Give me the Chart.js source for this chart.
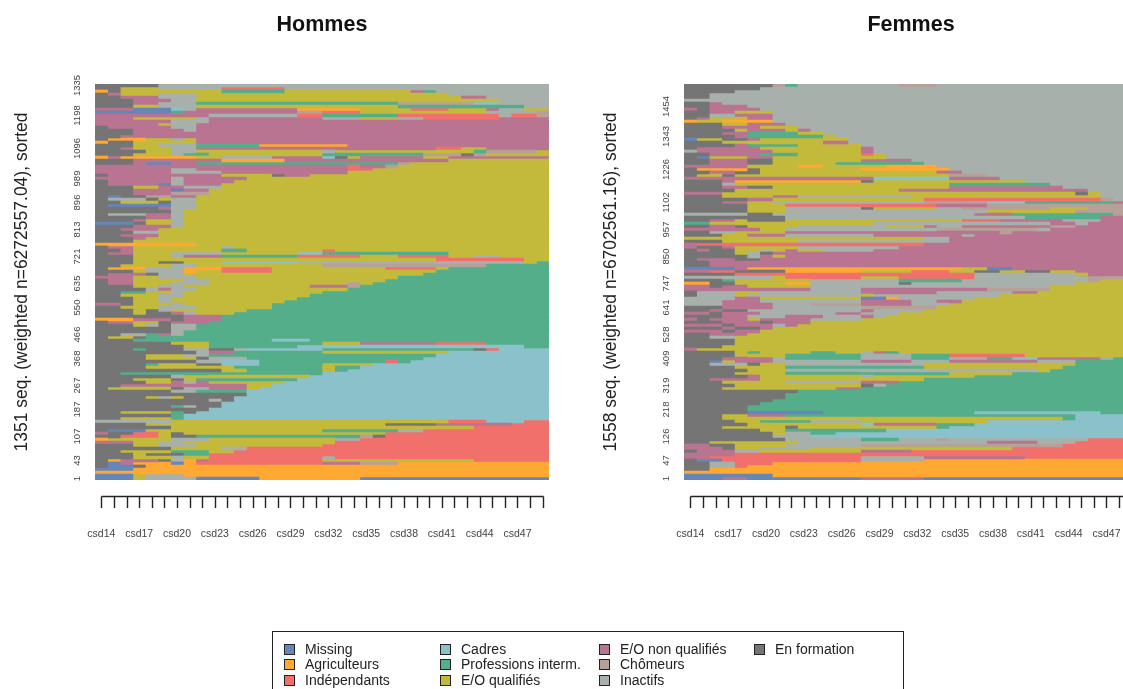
<!DOCTYPE html>
<html>

<head>
    <meta charset="utf-8">
    <title>Sequences</title>
    <script src="https://cdn.jsdelivr.net/npm/chart.js@4/dist/chart.umd.min.js"></script>
    <style>
        html, body { margin: 0; width: 1123px; height: 689px; overflow: hidden; background: #fff; }
        canvas { position: absolute; top: 0; filter: blur(0.5px); }
        #legend { position: absolute; left: 272px; top: 631px; width: 630px; height: 80px; border: 1px solid #222;
            font: 14px "Liberation Sans", Arial, sans-serif; color: #222; filter: blur(0.3px); }
        #legend div { position: absolute; white-space: nowrap; line-height: 15px; }
        #legend i { position: absolute; left: -21px; top: 2px; width: 9px; height: 9px; border: 1px solid #222; }
    </style>
</head>

<body>
    <canvas id="hommes" width="549" height="560" style="left:0"></canvas>
    <canvas id="femmes" width="549" height="560" style="left:589px"></canvas>
    <div id="legend"></div>
    <script>
        // states, in legend order (read down each legend column)
        const stateKeys = ['M', 'A', 'I', 'C', 'P', 'Q', 'N', 'H', 'T', 'F'];
        const stateNames = ['Missing', 'Agriculteurs', 'Indépendants', 'Cadres', 'Professions interm.', 'E/O qualifiés',
            'E/O non qualifiés', 'Chômeurs', 'Inactifs', 'En formation'];
        const stateColors = ['#6686b8', '#ffa832', '#f1706b', '#8ac1ca', '#55ae8a', '#c3ba3c',
            '#b97491', '#b6a097', '#a8b0ab', '#757575'];

        const periods = ['csd14', 'csd15', 'csd16', 'csd17', 'csd18', 'csd19', 'csd20', 'csd21', 'csd22', 'csd23', 'csd24', 'csd25',
            'csd26', 'csd27', 'csd28', 'csd29', 'csd30', 'csd31', 'csd32', 'csd33', 'csd34', 'csd35', 'csd36', 'csd37',
            'csd38', 'csd39', 'csd40', 'csd41', 'csd42', 'csd43', 'csd44', 'csd45', 'csd46', 'csd47', 'csd48', 'csd49'];

        const hommesTickRows = [0, 10, 21, 31, 39, 48, 57, 66, 74, 83, 91, 100, 108, 117, 125, 131];
        const hommesTickLabels = ['1335', '1198', '1096', '989', '896', '813', '721', '635', '550', '466', '368', '267', '187', '107', '43', '1'];
        const femmesTickRows = [7, 17, 28, 39, 48, 57, 66, 74, 83, 91, 100, 108, 117, 125, 131];
        const femmesTickLabels = ['1454', '1343', '1226', '1102', '957', '850', '747', '641', '528', '409', '319', '218', '126', '47', '1'];

        // one string per row, top to bottom: state letter + number of periods, no number = until the end
        const hommesRows = [
            'F5T', 'F2Q3T5I5T', 'A1F1Q8P5Q10N1P1T', 'F1N1Q3T3Q20T', 'F2N3T3Q21N2T', 'F3N3T2Q24T',
            'F3N2T3P16H6C2T', 'F3Q2T3Q16P10T', 'N3M3C1T1N8A5Q4I3Q3N1T2Q', 'M6P1N9H2I3Q10T4H', 'N9T7I2P6I8T1I2H',
            'N3Q5T1N9T3Q3T2I6N', 'N6T3N', 'N5Q1T2N', 'F1N5T2N', 'F3N4T1N', 'F3N', 'F2N', 'F1A3Q2T1Q1N', 'A1F2Q5N',
            'F3Q2T3P5A7N', 'F2N1Q3T2N19I2Q2N', 'F4Q2T2Q10T1Q11P1H4Q', 'F3Q3T1P2Q9P8H3F1H1Q', 'A1N1A6Q2T4N4C1F1Q1N5Q2N',
            'F3N7A5N13Q', 'F3N1M2N2P16H1Q', 'N20I1N2H1Q', 'N6T2N12I2Q', 'N6T4N10Q', 'F1N9Q4F1N2Q', 'N6T1N5Q',
            'F1N5T1N4Q', 'F1N4M1T1N3Q', 'F3Q2N1N1T3Q', 'F3N3M1N2Q', 'F3N3H3Q', 'F1M1F2H2N2Q', 'F1T3F1Q1T2Q', 'F2Q3F1T2Q',
            'F1M5T2Q', 'F5N1T2Q', 'F6T1Q', 'F1T3N2T1Q', 'F4N2T1Q', 'F3N1Q2T1Q', 'M3F1Q2T1Q', 'F3N3T1Q', 'F2N3Q', 'F3T2Q',
            'F2N3Q', 'F3N1Q', 'F3Q', 'A8Q', 'F1N2Q7T1Q8Q', 'F2N1Q7P2Q6I1Q', 'F1N2Q3T4Q6C2P10Q', 'F3Q3T1N3P6I5Q3I4Q2T2Q',
            'F3Q24I7Q', 'F3Q2F2Q3C6T18Q1P', 'F2Q4T2Q10H13P', 'F1A3T3A3I4Q9I4Q1P', 'F3Q1T3A1Q2I4Q13P', 'F1N3F1T2Q19P',
            'N3Q2T3Q16P', 'F1N2Q4T2Q14P', 'F1N2Q3T3Q11H1Q1P', 'F3Q2T2Q10N3H1P', 'F4T1N1T2Q12P', 'F2P2Q2T1Q11P',
            'F2Q3T2Q10P', 'F3Q2T1Q10P', 'F3Q2T1Q9P', 'N2F1Q3T1Q7P', 'F2Q3T3Q6P', 'F3Q1F1T1Q6P', 'F3Q1F2N1T1Q3P', 'F7N3P',
            'A3N3F1N3P', 'F1N2Q2F1N3P', 'F3Q1T1F1T2P', 'F6T2P', 'F6T1P', 'F2T2P1N1T1P', 'F1Q2F1P', 'F3P11C3P',
            'F6Q3P9Q3N6I4P', 'F7Q2P7C18P', 'F3P1F3T2F2T1C6P12F1I1C', 'F8T1N2P7Q10C', 'F4Q3T2P18C', 'F4Q4F1T3P14C',
            'F8T2C3P10I1P1C', 'F4P1Q3F2C3P5Q4C', 'F4Q7P7Q1P2C', 'F10Q2P6Q1P1C', 'F2P7P9C', 'F6T1Q10C', 'F3Q3F1Q1P8C',
            'F4Q2N1T1N1Q6C', 'F2N10Q2C', 'F1Q5F1T2N3Q1C', 'F6T2P4C', 'F12C', 'F4Q1T1Q1F4C', 'F9T1F1C', 'F10C', 'F6P1T1F2C',
            'F9C', 'F2Q4P1F1C', 'F6P1C', 'F2Q4P1C', 'T6Q22I3C3I', 'F4Q19F4N6I', 'F6Q24I', 'F1M3Q14P6T2I', 'N1F2I2Q1F1Q11Q5I',
            'F2I3Q1F2P13H1F1I', 'A1Q5T3Q9Q1T2I', 'N3Q2T2Q12I', 'F3Q2T3Q10I', 'F6Q4T2I', 'F2Q4P3Q2I', 'F3Q1F3P2I', 'F3Q3T1Q2I9T1I',
            'F1A1N3F1T1A1N1I9Q12I', 'F1M1N1A3M1A1I10N3H3A', 'F1M2F1A', 'M3A', 'A', 'M3Q1T3A', 'M3Q1T4M5A8M'
        ];
        const femmesRows = [
            'F7H1P1T8H3T', 'F6T', 'F4T', 'F2T', 'F2T', 'T', 'F2N1T', 'F2N3T', 'N1F1N4T', 'F2N2Q3T', 'F2T2N3T', 'F1N1Q3N2T',
            'A1Q2A4T', 'F3Q2N3T', 'F3N3Q2Q1T', 'F4Q1N3Q1N1T', 'F3N2P4Q2T', 'F4N1P6Q1T', 'M1Q2F2N1Q7T', 'F3Q8N2T', 'F4N1P4Q5T',
            'F1N5Q8N1T', 'T1N6Q7N1T', 'F2N4P3Q5I1Q1T', 'F1M1Q3N2Q9T', 'F2N3F2Q2Q5N4T', 'F2N3F2Q4Q1P7T', 'N5Q2Q2A2Q5A4T',
            'F1A4F1Q8A7T', 'F2N2F2Q14N2T', 'F1Q2F1Q17H3T', 'N15C6N4T', 'F3N1A10F1Q12T', 'F3T1Q17P8T', 'F3N2F2Q14N9T',
            'F4Q3Q10N15T', 'N3Q28F1Q1T', 'F3Q4N2T9Q15T', 'F5N2Q12I14H1T', 'F3N2Q2T12H5C3P7N', 'F5Q3I12N4H', 'F5Q3T6F1Q5T2H7Q3H',
            'F5Q3T16Q7H', 'T5F2T16N3P8H', 'F8T14T5P6N', 'F2N2Q1F3Q7Q7I3N5T3N', 'P2Q13T14N2T1N', 'F2N2F1Q4T5T2Q3N1T2N7H2N',
            'N6Q2T12H8T1N', 'F2T2Q4N17H1N', 'F3Q2N3T7N7T1N', 'Q8Q11T2N', 'F3Q5Q1T12N', 'N1I18N', 'N1F2N1Q5T8N', 'F1N1F2Q2T1Q1N1Q2T4N',
            'F4Q1T1F1N', 'F5T1N1Q1N', 'F1N3F2N', 'F2N', 'F2N', 'M4N1A17Q2M2N', 'N2I2F4A6Q4I3Q2F2Q2F2Q2N', 'F4I19T8Q1N', 'T7Q1I6Q3I6T9H',
            'F3P1Q6T7P5T10H1Q', 'A2F2Q4A2T7F1T13Q', 'N2F1N2Q5T19Q', 'N10T4N10H5Q', 'F1T3Q2T8N6T6N2Q', 'F1T3Q1T9Q1T10Q',
            'T4N2Q8M2A1T6Q', 'T3N3T8N4T2N2Q', 'T3N4T3H4N4T3Q', 'F3N4T7H6Q', 'F2N1F2T9N1T4Q', 'N2F1N3T6N2T3Q', 'F3N2T3N3T3N1T1Q',
            'N1F1N3Q1N4T4Q', 'F3N3F1N3Q', 'N3F1N3T1N1Q', 'F3N1F2N1Q', 'N3F1N2Q', 'F2N2N1Q', 'F2T2Q', 'F4Q', 'F4Q', 'F3Q', 'N1Q',
            'F4Q1P1Q4P2Q2T1N1P1Q', 'F4Q4P6T4P3I6Q', 'F3N2N2T1P6T4P3T3P2C2N5T1P', 'F2M1Q1N3T7N4T3N7T3P', 'F2T3F1Q2T6T5Q12P',
            'F4Q4P11Q11P', 'F5Q3T20Q1P', 'F4Q4P6P7Q5P', 'F5N1Q8T1Q8P', 'F2N4Q8Q5P', 'F3Q5T6N3P', 'F4Q10F1T1P', 'F3Q9N2P', 'F9P',
            'F8P', 'F8P', 'F7P', 'F6P', 'F5P', 'F5P', 'F5M6P12C10P', 'F3Q2N3P6P17C', 'F3Q27P1C', 'F4Q2P4T4Q10C', 'F5Q2Q7C1N5P3C',
            'F3Q5F1Q5Q6P1C', 'F6Q2P6P2C', 'F7Q1T2P2C', 'F7T3C', 'F8T6P3T3H1T11I', 'F2Q7T5T10N4T3I', 'N2F2Q4T6H16I', 'N3F1Q2T4Q16I',
            'F1N3T2Q8N4I', 'N4I', 'N2I12T5N8I', 'F1M2I11T5A', 'F2T2I3A', 'F2T2I1A', 'F2A', 'A', 'M7A', 'M3N2M9N5M'
        ];

        function parseRow(row) {
            const runs = [];
            let used = 0;
            for (const m of row.matchAll(/([A-Z])(\d*)/g)) {
                const len = m[2] ? Number(m[2]) : periods.length - used;
                runs.push({ state: m[1], len: len });
                used += len;
            }
            return runs;
        }

        // k-th run of every row goes in the k-th stacked dataset
        function buildDatasets(rows) {
            const parsed = rows.map(parseRow);
            const maxRuns = Math.max(...parsed.map(r => r.length));
            const datasets = [];
            for (let k = 0; k < maxRuns; k++) {
                datasets.push({
                    data: parsed.map(r => r[k] ? r[k].len : 0),
                    backgroundColor: parsed.map(r => r[k] ? stateColors[stateKeys.indexOf(r[k].state)] : '#fff'),
                    borderWidth: 0,
                    barPercentage: 1,
                    categoryPercentage: 1
                });
            }
            return datasets;
        }

        // R style axis, detached from the plot
        const detachedAxis = {
            id: 'detachedAxis',
            afterDraw(chart) {
                const x = chart.scales.x;
                const ctx = chart.ctx;
                const ticks = x.ticks.map(t => Math.round(x.getPixelForValue(t.value)) + 0.5);
                ctx.save();
                ctx.strokeStyle = '#222';
                ctx.lineWidth = 1.4;
                ctx.beginPath();
                ctx.moveTo(ticks[0], 496.5);
                ctx.lineTo(ticks[ticks.length - 1], 496.5);
                ticks.forEach(px => {
                    ctx.moveTo(px, 496.5);
                    ctx.lineTo(px, 508);
                });
                ctx.stroke();
                ctx.restore();
            }
        };

        function drawPanel(id, title, yTitle, rows, tickRows, tickLabels) {
            new Chart(document.getElementById(id), {
                type: 'bar',
                data: { labels: rows.map((r, i) => i), datasets: buildDatasets(rows) },
                plugins: [detachedAxis],
                options: {
                    indexAxis: 'y',
                    responsive: false,
                    animation: false,
                    devicePixelRatio: 1,
                    plugins: {
                        legend: { display: false },
                        tooltip: { enabled: false },
                        title: {
                            display: true,
                            fullSize: false,
                            text: title,
                            color: '#111',
                            font: { family: 'Liberation Sans', size: 21.5, weight: 'bold', lineHeight: 1.2 },
                            padding: { top: 12, bottom: 46.2 }
                        }
                    },
                    scales: {
                        x: {
                            type: 'linear',
                            stacked: true,
                            min: 0,
                            max: periods.length,
                            grid: { display: false },
                            border: { display: false },
                            afterFit(scale) {
                                scale.height = 80;
                                scale.paddingLeft = 0;
                                scale.paddingRight = 0;
                            },
                            afterBuildTicks(scale) { scale.ticks = periods.map((p, i) => ({ value: i + 0.5 })); },
                            ticks: {
                                autoSkip: false,
                                maxRotation: 0,
                                padding: 40,
                                color: '#444',
                                font: { family: 'Liberation Sans', size: 10.5 },
                                callback: (v, i) => (i % 3 === 0 ? periods[i] : '')
                            }
                        },
                        y: {
                            stacked: true,
                            grid: { display: false },
                            border: { display: false },
                            afterFit(scale) {
                                scale.width = 95;
                                scale.paddingTop = 0;
                                scale.paddingBottom = 0;
                            },
                            afterBuildTicks(scale) { scale.ticks = tickRows.map(r => ({ value: r })); },
                            title: {
                                display: true,
                                text: yTitle,
                                color: '#222',
                                font: { family: 'Liberation Sans', size: 17.5 },
                                padding: { top: 12, bottom: 0 }
                            },
                            ticks: {
                                autoSkip: false,
                                minRotation: 90,
                                maxRotation: 90,
                                crossAlign: 'center',
                                padding: -1,
                                color: '#444',
                                font: { family: 'Liberation Sans', size: 9.5 },
                                callback: (v, i) => tickLabels[i]
                            }
                        }
                    }
                }
            });
        }

        drawPanel('hommes', 'Hommes', '1351 seq. (weighted n=6272557.04), sorted', hommesRows, hommesTickRows, hommesTickLabels);
        drawPanel('femmes', 'Femmes', '1558 seq. (weighted n=6702561.16), sorted', femmesRows, femmesTickRows, femmesTickLabels);

        // legend box, three entries per column
        const legendColX = [32, 188, 347, 502];
        const legendRowY = [10, 25, 41];
        stateNames.forEach((name, i) => {
            const item = document.createElement('div');
            item.style.left = legendColX[Math.floor(i / 3)] + 'px';
            item.style.top = legendRowY[i % 3] + 'px';
            item.innerHTML = '<i style="background:' + stateColors[i] + '"></i>' + name;
            document.getElementById('legend').appendChild(item);
        });
    </script>
</body>

</html>
